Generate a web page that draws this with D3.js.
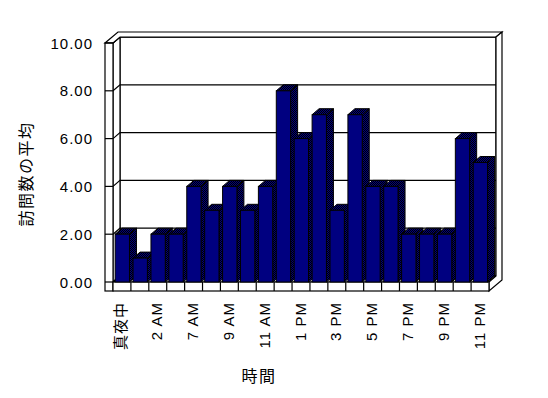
<!DOCTYPE html>
<html>
<head>
<meta charset="utf-8">
<title>訪問数の平均</title>
<script src="https://cdn.jsdelivr.net/npm/d3@7/dist/d3.min.js"></script>
<style>
  body { margin: 0; background: #fff; }
  text { font-family: "Liberation Sans", Arial, "Noto Sans CJK JP", sans-serif; fill: #000; }
</style>
</head>
<body>
<svg id="lienzo" width="548" height="398"></svg>
<script>
// data
const categories = ["真夜中", "1 AM", "2 AM", "6 AM", "7 AM", "8 AM", "9 AM", "10 AM", "11 AM", "12 PM",
                    "1 PM", "2 PM", "3 PM", "4 PM", "5 PM", "6 PM", "7 PM", "8 PM", "9 PM", "10 PM", "11 PM"];
const visits = [2, 1, 2, 2, 4, 3, 4, 3, 4, 8, 6, 7, 3, 7, 4, 4, 2, 2, 2, 6, 5];
const yTicks = [0, 2, 4, 6, 8, 10];
const xTitle = "時間";
const yTitle = "訪問数の平均";

const svg = d3.select("#lienzo");

const x = d3.scaleBand().domain(categories).range([113, 489]);
const y = d3.scaleLinear().domain([0, 10]).range([282, 43]);

const dx = 7, dy = -6;     // depth of the plot box
const ox = 13, oy = -11;   // depth including back wall thickness
const wallX = 105;         // outer left edge of the left wall
const floorB = 291;        // bottom edge of the floor slab

const xL = x.range()[0], xR = x.range()[1];
const y0 = y(0), yT = y(10);
const pts = a => a.map(p => p.join(",")).join(" ");

// dithered fill for the shaded faces
const pat = svg.append("defs").append("pattern")
  .attr("id", "dither").attr("width", 2).attr("height", 2)
  .attr("patternUnits", "userSpaceOnUse");
pat.append("rect").attr("width", 2).attr("height", 2).attr("fill", "#000080");
pat.append("rect").attr("width", 1).attr("height", 1).attr("fill", "#000");
pat.append("rect").attr("x", 1).attr("y", 1).attr("width", 1).attr("height", 1).attr("fill", "#000");

const frame = svg.append("g")
  .attr("fill", "#fff").attr("stroke", "#000").attr("stroke-width", 1.2);

// back wall, left wall inside, floor top
frame.append("rect")
  .attr("x", xL + dx).attr("y", yT + dy)
  .attr("width", xR - xL).attr("height", y0 - yT);
frame.append("polygon")
  .attr("points", pts([[xL, yT], [xL + dx, yT + dy], [xL + dx, y0 + dy], [xL, y0]]));
frame.append("polygon")
  .attr("points", pts([[xL, y0], [xR, y0], [xR + dx, y0 + dy], [xL + dx, y0 + dy]]));

// gridlines
frame.selectAll("polyline.grid")
  .data(yTicks)
  .enter()
  .append("polyline")
  .attr("class", "grid")
  .attr("fill", "none")
  .attr("points", v => pts([[xL, y(v)], [xL + dx, y(v) + dy], [xR + dx, y(v) + dy]]));

// bars, left to right so each one covers the side of the previous
const bw = x.bandwidth();
const bars = svg.append("g").attr("stroke", "#000").attr("stroke-width", 1);
categories.forEach((c, i) => {
  const bx = x(c) + bw * 0.12;
  const bwid = bw * 0.8;
  const top = y(visits[i]);
  const g = bars.append("g");
  g.append("polygon")
    .attr("fill", "url(#dither)")
    .attr("points", pts([[bx + bwid, top], [bx + bwid + dx, top + dy], [bx + bwid + dx, y0 + dy], [bx + bwid, y0]]));
  g.append("polygon")
    .attr("fill", "url(#dither)")
    .attr("points", pts([[bx, top], [bx + dx, top + dy], [bx + bwid + dx, top + dy], [bx + bwid, top]]));
  g.append("rect")
    .attr("fill", "#000080")
    .attr("x", bx).attr("y", top)
    .attr("width", bwid).attr("height", y0 - top);
});

// outer slabs: top, right end, left wall front, floor front
frame.append("polygon")
  .attr("points", pts([[wallX, yT], [xL, yT], [xL + dx, yT + dy], [xR + dx, yT + dy],
                       [xR + ox, yT + oy], [wallX + ox, yT + oy]]));
frame.append("polygon")
  .attr("points", pts([[xR + dx, yT + dy], [xR + ox, yT + oy], [xR + ox, floorB + oy],
                       [xR, floorB], [xR, y0], [xR + dx, y0 + dy]]));
frame.append("rect")
  .attr("x", wallX).attr("y", yT)
  .attr("width", xL - wallX).attr("height", floorB - yT);
frame.selectAll("line.ytick")
  .data(yTicks)
  .enter()
  .append("line")
  .attr("class", "ytick")
  .attr("x1", wallX).attr("x2", xL)
  .attr("y1", d => y(d)).attr("y2", d => y(d));
frame.append("rect")
  .attr("x", xL).attr("y", y0)
  .attr("width", xR - xL).attr("height", floorB - y0);
frame.selectAll("line.xdiv")
  .data(categories.slice(1))
  .enter()
  .append("line")
  .attr("class", "xdiv")
  .attr("x1", d => x(d)).attr("x2", d => x(d))
  .attr("y1", y0).attr("y2", floorB);

// y tick labels
svg.append("g")
  .selectAll("text")
  .data(yTicks)
  .enter()
  .append("text")
  .attr("x", 93)
  .attr("y", d => y(d))
  .attr("text-anchor", "end")
  .attr("dominant-baseline", "central")
  .attr("font-size", 15)
  .attr("letter-spacing", 1)
  .text(d => d3.format(".2f")(d));

// x tick labels, every other category
svg.append("g")
  .selectAll("text")
  .data(categories.filter((c, i) => i % 2 === 0))
  .enter()
  .append("text")
  .attr("transform", d => "translate(" + (x(d) + bw / 2 - 1) + ",302) rotate(-90)")
  .attr("text-anchor", "end")
  .attr("dominant-baseline", "central")
  .attr("font-size", 15)
  .attr("letter-spacing", 1)
  .text(d => d);

// axis titles
svg.append("text")
  .attr("x", 259).attr("y", 376)
  .attr("text-anchor", "middle")
  .attr("dominant-baseline", "central")
  .attr("font-size", 16)
  .attr("letter-spacing", 1.5)
  .text(xTitle);

svg.append("text")
  .attr("transform", "translate(26,174) rotate(-90)")
  .attr("text-anchor", "middle")
  .attr("dominant-baseline", "central")
  .attr("font-size", 16)
  .attr("letter-spacing", 1.5)
  .text(yTitle);
</script>
</body>
</html>
